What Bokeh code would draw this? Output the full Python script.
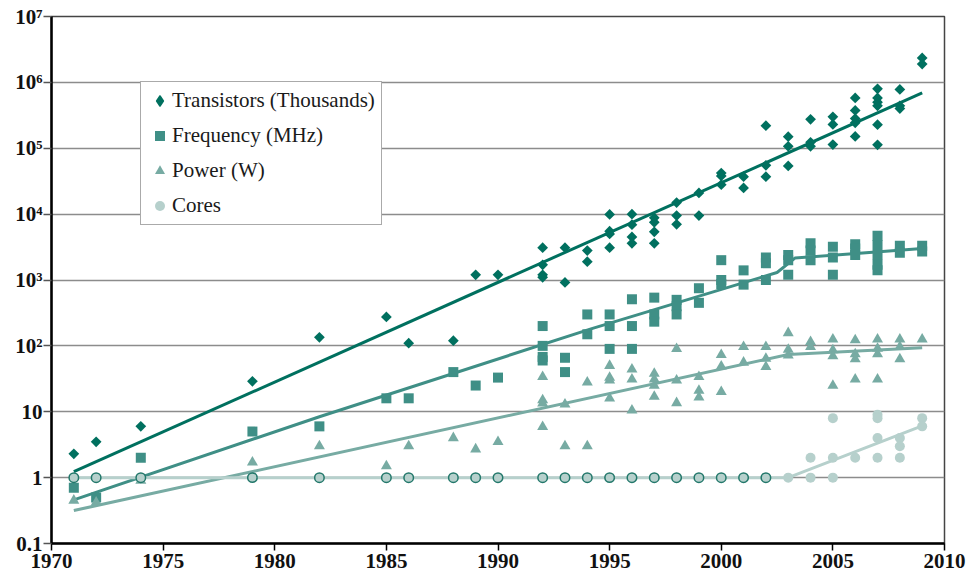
import math
from bokeh.plotting import figure
from bokeh.models import (FixedTicker, CustomJSTickFormatter, Legend, LegendItem, Range1d)
from bokeh.embed import file_html
from bokeh.resources import INLINE

# ---------------- data ----------------
tr_years = [1971, 1972, 1974, 1979, 1982, 1985, 1986, 1988, 1989, 1990,
            1992, 1992, 1992, 1992, 1993, 1993, 1994, 1994,
            1995, 1995, 1995, 1995, 1996, 1996, 1996, 1996,
            1997, 1997, 1997, 1997, 1998, 1998, 1998, 1999, 1999,
            2000, 2000, 2000, 2001, 2001, 2002, 2002, 2002,
            2003, 2003, 2003, 2004, 2004, 2004, 2005, 2005, 2005,
            2006, 2006, 2006, 2006, 2006,
            2007, 2007, 2007, 2007, 2007, 2007,
            2008, 2008, 2008, 2009, 2009]
tr_vals = [2.3, 3.5, 6, 29, 135, 275, 110, 120, 1200, 1200,
           3100, 1700, 1200, 1100, 3100, 920, 2800, 1900,
           9900, 5500, 5000, 3100, 10000, 6900, 4500, 3600,
           8800, 7500, 5400, 3600, 15000, 9500, 7000, 21000, 9500,
           42000, 38000, 28000, 37000, 25000, 220000, 55000, 37000,
           150000, 107000, 54000, 275000, 123000, 107000, 300000, 230000, 114000,
           580000, 375000, 282000, 243000, 151000,
           800000, 580000, 500000, 440000, 228000, 113000,
           780000, 440000, 400000, 2350000, 1900000]

fr_years = [1971, 1972, 1974, 1979, 1982, 1985, 1986, 1988, 1989, 1990,
            1992, 1992, 1992, 1992, 1993, 1993, 1994, 1994,
            1995, 1995, 1995, 1996, 1996, 1996, 1997, 1997, 1997,
            1998, 1998, 1998, 1999, 1999, 2000, 2000, 2000, 2001, 2001,
            2002, 2002, 2002, 2003, 2003, 2003, 2004, 2004, 2004,
            2005, 2005, 2005, 2006, 2006, 2006,
            2007, 2007, 2007, 2007, 2007, 2008, 2008, 2009, 2009]
fr_vals = [0.7, 0.5, 2, 5, 6, 16, 16, 40, 25, 33,
           200, 100, 68, 60, 66, 40, 300, 150,
           300, 200, 90, 510, 200, 90, 540, 300, 233,
           500, 400, 300, 750, 450, 2000, 1000, 866, 1400, 850,
           2200, 1800, 1000, 2400, 2000, 1200, 3600, 2800, 2000,
           3200, 2200, 1200, 3500, 3000, 2400,
           4700, 3400, 2400, 1700, 1400, 3300, 2600, 3300, 2700]

pw_years = [1971, 1972, 1974, 1979, 1982, 1985, 1986, 1988, 1989, 1990,
            1992, 1992, 1992, 1992, 1993, 1993, 1994, 1994,
            1995, 1995, 1995, 1995, 1996, 1996, 1996,
            1997, 1997, 1997, 1997, 1998, 1998, 1998, 1999, 1999, 1999,
            2000, 2000, 2000, 2001, 2001, 2002, 2002, 2002,
            2003, 2003, 2003, 2004, 2004, 2005, 2005, 2005, 2005,
            2006, 2006, 2006, 2006, 2007, 2007, 2007, 2007,
            2008, 2008, 2008, 2009]
pw_vals = [0.45, 0.42, 0.9, 1.7, 3, 1.5, 3, 4, 2.7, 3.5,
           34, 15, 13.4, 5.9, 13, 3, 28, 3,
           50, 33, 30, 16, 44, 31, 10.5,
           38, 31, 25, 17, 90, 30, 13.6, 34, 21, 16.6,
           73, 49, 20, 97, 56, 97, 64, 48,
           157, 88, 72, 115, 97, 126, 86, 70, 25,
           122, 75, 63, 31, 126, 91, 75, 31,
           126, 97, 63, 126]

# single-core parts (value 1), 1971-2002
co1_years = [1971, 1972, 1974, 1979, 1982, 1985, 1986, 1988, 1989, 1990,
             1992, 1993, 1994, 1995, 1996, 1997, 1998, 1999, 2000, 2001, 2002]
co1_vals = [1] * len(co1_years)
# multi-core era
co_years = [2003, 2004, 2004, 2005, 2005, 2005, 2006, 2007, 2007, 2007, 2007,
            2008, 2008, 2008, 2009, 2009]
co_vals = [1, 2, 1, 8, 2, 1, 2, 9, 8, 4, 2, 4, 3, 2, 8, 6]

# fitted trend lines
tr_fit_years = [1971, 2009]
tr_fit_vals = [1.23, 690000]
fr_fit_years = [1971, 1982, 1994.2, 2002.5, 2003.3, 2009]
fr_fit_vals = [0.46, 8.4, 183, 1300, 2150, 3000]
pw_fit_years = [1971, 2003, 2005, 2009]
pw_fit_vals = [0.316, 74, 80, 94]
co_fit_years = [1971, 2003, 2009]
co_fit_vals = [1, 1, 6.1]

x_ticks = [1970, 1975, 1980, 1985, 1990, 1995, 2000, 2005, 2010]
y_ticks = [0.1, 1, 10, 100, 1000, 10000, 100000, 1000000, 10000000]
y_tick_labels = ["0.1", "1", "10", "10\u00b2", "10\u00b3", "10\u2074", "10\u2075", "10\u2076", "10\u2077"]

series_labels = ["Transistors (Thousands)", "Frequency (MHz)", "Power (W)", "Cores"]

# ---------------- style ----------------
C_TR = "#00705f"
C_FR = "#3f8f86"
C_PW = "#77aba3"
C_CO = "#b6d0cc"
C_CO_EDGE = "#23786b"
FONT = "Liberation Serif"

p = figure(width=976, height=577, output_backend="svg", toolbar_location=None,
           x_range=Range1d(1970, 2010), y_range=Range1d(0.1, 1e7), y_axis_type="log",
           min_border_left=51, min_border_right=32, min_border_top=16, min_border_bottom=34)
p.background_fill_color = "white"
p.border_fill_color = "white"
p.outline_line_color = "#444444"
p.outline_line_width = 1.5

p.xgrid.visible = False
p.ygrid.ticker = FixedTicker(ticks=y_ticks)
p.ygrid.grid_line_color = "#8c8c8c"
p.ygrid.grid_line_width = 1.5

p.xaxis.ticker = FixedTicker(ticks=x_ticks)
p.yaxis.ticker = FixedTicker(ticks=y_ticks)
p.yaxis.formatter = CustomJSTickFormatter(args=dict(tv=y_ticks, tl=y_tick_labels), code="""
const lt = Math.log10(tick);
for (let i = 0; i < tv.length; i++) {
  if (Math.abs(Math.log10(tv[i]) - lt) < 1e-6) return tl[i];
}
return '';
""")

for ax in (p.xaxis, p.yaxis):
    ax.axis_line_color = "black"
    ax.axis_line_width = 2.5
    ax.major_tick_in = 0
    ax.minor_tick_in = 0
    ax.minor_tick_out = 0
    ax.major_tick_line_width = 1.5
    ax.major_label_text_font = FONT
    ax.major_label_text_font_style = "bold"
    ax.major_label_text_font_size = "21px"
    ax.major_label_text_color = "#111111"
p.xaxis.major_tick_out = 7
p.xaxis.major_tick_line_color = "black"
p.xaxis.major_label_standoff = 3
p.yaxis.major_tick_out = 8
p.yaxis.major_tick_line_color = "#555555"
p.yaxis.major_label_standoff = 1

# trend lines
p.line(tr_fit_years, tr_fit_vals, line_color=C_TR, line_width=3)
p.line(fr_fit_years, fr_fit_vals, line_color=C_FR, line_width=3)
p.line(pw_fit_years, pw_fit_vals, line_color=C_PW, line_width=3)
p.line(co_fit_years, co_fit_vals, line_color=C_CO, line_width=3)

# legend key for the diamonds (legend keys do not follow a marker's angle);
# it sits hidden beneath the first diamond of the series
r_tr_key = p.scatter(tr_years[:1], tr_vals[:1], marker="diamond", size=5,
                     fill_color=C_TR, line_color=C_TR, line_width=1.6, line_join="round")

# markers
p.scatter(tr_years, tr_vals, marker="square", angle=math.pi / 4, size=7.6,
          fill_color=C_TR, line_color=None)
r_fr = p.scatter(fr_years, fr_vals, marker="square", size=10, fill_color=C_FR, line_color=None)
r_pw = p.scatter(pw_years, pw_vals, marker="triangle", size=11, fill_color=C_PW, line_color=None)
p.scatter(co1_years, co1_vals, marker="circle", size=9.5, fill_color=C_CO,
          line_color=C_CO_EDGE, line_width=1.5)
r_co = p.scatter(co_years, co_vals, marker="circle", size=10, fill_color=C_CO, line_color=None)

legend = Legend(items=[LegendItem(label=series_labels[0], renderers=[r_tr_key]),
                       LegendItem(label=series_labels[1], renderers=[r_fr]),
                       LegendItem(label=series_labels[2], renderers=[r_pw]),
                       LegendItem(label=series_labels[3], renderers=[r_co])],
                location=(89, 318))
legend.label_text_font = FONT
legend.label_text_font_size = "21px"
legend.label_text_color = "#1a1a1a"
legend.glyph_width = 25
legend.glyph_height = 25
legend.label_height = 25
legend.spacing = 10
legend.padding = 6
legend.margin = 0
legend.label_standoff = 0
legend.border_line_color = "#555555"
legend.border_line_width = 1.2
legend.background_fill_color = "white"
legend.background_fill_alpha = 1
p.add_layout(legend)

open("out.html", "w").write(file_html(p, INLINE))
